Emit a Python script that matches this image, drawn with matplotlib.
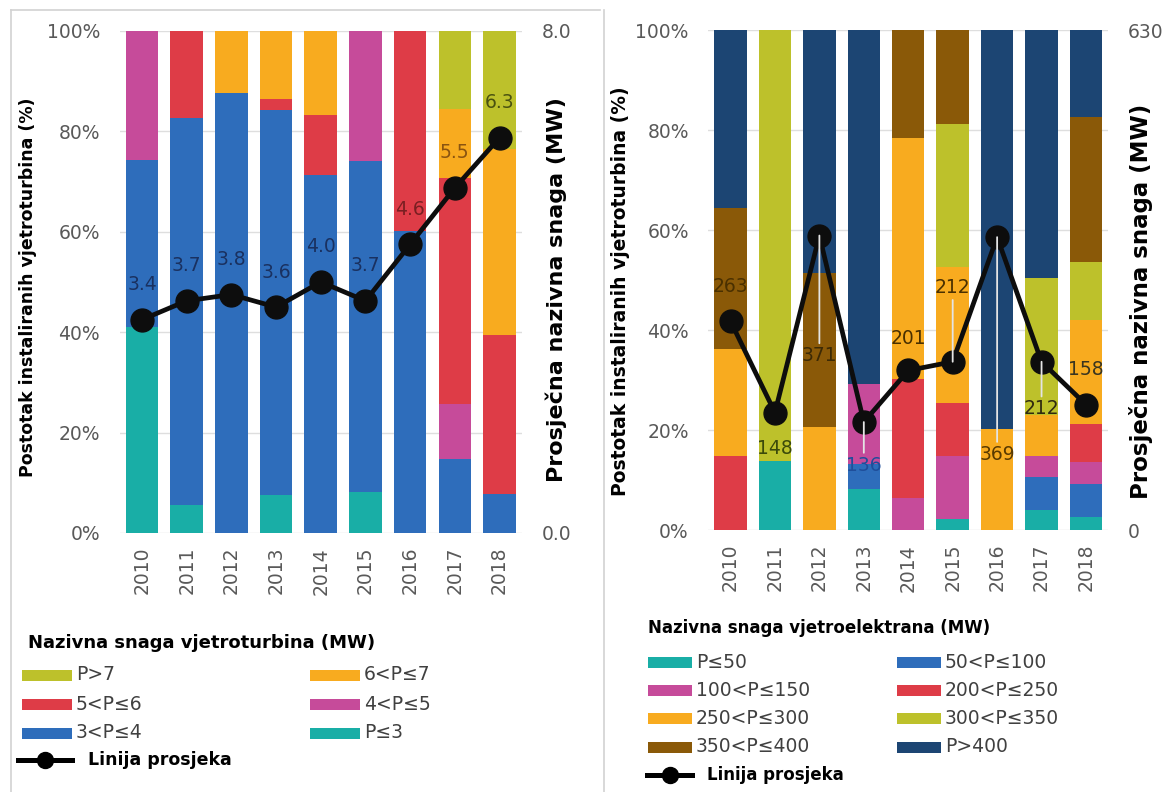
import numpy as np
import matplotlib
matplotlib.use('Agg')
import matplotlib.pyplot as plt
from matplotlib.patches import Rectangle
from matplotlib.lines import Line2D

# ── Canvas (pixel units, converted to figure fractions below) ─────────────────
W, H = 1175, 792

# ── Data ──────────────────────────────────────────────────────────────────────
years = ['2010', '2011', '2012', '2013', '2014', '2015', '2016', '2017', '2018']

# left panel: share of installed turbines by turbine rating (%), bottom -> top
turb_labels = ['P≤3', '3<P≤4', '4<P≤5', '5<P≤6', '6<P≤7', 'P>7']
turb_le3 = [41.0, 5.6, 0.0, 7.6, 0.0, 8.1, 0.0, 0.0, 0.0]
turb_3_4 = [33.4, 77.0, 87.6, 76.6, 71.3, 66.1, 60.1, 14.7, 7.7]
turb_4_5 = [25.6, 0.0, 0.0, 0.0, 0.0, 25.8, 0.0, 11.0, 0.0]
turb_5_6 = [0.0, 17.4, 0.0, 2.2, 11.9, 0.0, 39.9, 45.1, 31.8]
turb_6_7 = [0.0, 0.0, 12.4, 13.6, 16.8, 0.0, 0.0, 13.6, 36.9]
turb_gt7 = [0.0, 0.0, 0.0, 0.0, 0.0, 0.0, 0.0, 15.6, 23.6]
turb_avg = [3.4, 3.7, 3.8, 3.6, 4.0, 3.7, 4.6, 5.5, 6.3]   # MW
turb_avg_max = 8.0

# right panel: share of turbines by wind-farm rating (%), bottom -> top
farm_labels = ['P≤50', '50<P≤100', '100<P≤150', '200<P≤250',
               '250<P≤300', '300<P≤350', '350<P≤400', 'P>400']
farm_le50 = [0.0, 13.8, 0.0, 8.2, 0.0, 2.2, 0.0, 4.0, 2.7]
farm_50_100 = [0.0, 0.0, 0.0, 5.1, 0.0, 0.0, 0.0, 6.7, 6.5]
farm_100_150 = [0.0, 0.0, 0.0, 16.0, 6.5, 12.6, 0.0, 4.1, 4.5]
farm_200_250 = [14.8, 0.0, 0.0, 0.0, 23.7, 10.7, 0.0, 0.0, 7.6]
farm_250_300 = [21.4, 0.0, 20.7, 0.0, 48.3, 27.1, 20.2, 8.2, 20.7]
farm_300_350 = [0.0, 86.2, 0.0, 0.0, 0.0, 28.6, 0.0, 27.5, 11.7]
farm_350_400 = [28.2, 0.0, 30.7, 0.0, 21.5, 18.8, 0.0, 0.0, 28.9]
farm_gt400 = [35.6, 0.0, 48.6, 70.7, 0.0, 0.0, 79.8, 49.5, 17.4]
farm_avg = [263, 148, 371, 136, 201, 212, 369, 212, 158]   # MW
farm_avg_max = 630

# ── Colours ───────────────────────────────────────────────────────────────────
TEAL, BLUE, PINK, RED = '#19aea6', '#2e6dbb', '#c64b9a', '#de3c47'
ORANGE, OLIVE, BROWN, NAVY = '#f8ab1f', '#bdc12b', '#8a5908', '#1c4573'
GRID, TICK, FRAME, TEXT = '#dedede', '#595959', '#d2d2d2', '#404040'

turb_colors = [TEAL, BLUE, PINK, RED, ORANGE, OLIVE]
farm_colors = [TEAL, BLUE, PINK, RED, ORANGE, OLIVE, BROWN, NAVY]

# label styling (offsets in px, + is up)
turb_lbl_off = [35] * 9
turb_lbl_col = ['#1a3160'] * 6 + ['#7a1f22', '#8a5410', '#4a5210']
farm_lbl_off = [35, -36, -120, -43, 32, 74, -217, -47, 35]
farm_lbl_col = ['#4a3000', '#3b4a0a', '#3d2a05', '#1f4e9a', '#4a3000',
                '#4a3000', '#5a3a00', '#2f2a10', '#3a3520']

plt.rcParams['font.family'] = ['DejaVu Sans']


def fx(x):
    return x / W


def fy(y):
    return 1 - y / H


def stacked_panel(fig, x0, x1, y_top, y_bot, series, colors, avg, avg_max,
                  fmt, offsets, lbl_colors):
    ax = fig.add_axes([fx(x0), fy(y_bot), (x1 - x0) / W, (y_bot - y_top) / H])
    x = np.arange(len(years))
    bottom = np.zeros(len(years))
    for vals, c in zip(series, colors):
        ax.bar(x, vals, bottom=bottom, width=0.73, color=c, lw=0, zorder=2)
        bottom += np.array(vals)
    ax.set_xlim(-0.5, len(years) - 0.5)
    ax.set_ylim(0, 100)
    ax.set_yticks(range(0, 101, 20))
    ax.set_yticklabels([f'{v}%' for v in range(0, 101, 20)])
    ax.set_xticks(x)
    ax.set_xticklabels(years, rotation=90)
    ax.yaxis.grid(True, color=GRID, lw=1)
    ax.set_axisbelow(True)
    for s in ax.spines.values():
        s.set_visible(False)
    ax.tick_params(length=0, labelsize=13.5, labelcolor=TICK)
    ax.tick_params(axis='y', pad=14)
    ax.tick_params(axis='x', pad=10)

    ax2 = ax.twinx()
    ax2.set_ylim(0, avg_max)
    ax2.set_yticks([0, avg_max])
    ax2.set_yticklabels([fmt.format(0), fmt.format(avg_max)])
    for s in ax2.spines.values():
        s.set_visible(False)
    ax2.tick_params(length=0, labelsize=13.5, labelcolor=TICK, pad=14)
    ax2.plot(x, avg, color='#0d0d0d', lw=3.4, marker='o', ms=16.5, zorder=3)
    for i, v in enumerate(avg):
        off = offsets[i]
        arrow = None
        if abs(off) > 40:
            arrow = dict(arrowstyle='-', color='#e4e4e4', lw=1.3,
                         shrinkA=0, shrinkB=0)
        ax2.annotate(fmt.format(v), xy=(i, v), xytext=(0, off * 0.72),
                     textcoords='offset points', ha='center', va='center',
                     fontsize=13.5, color=lbl_colors[i], arrowprops=arrow,
                     zorder=4)
    return ax, ax2


def draw_legend(fig, title, title_xy, title_size, labels, colors, col_x,
                row_y, patch_w, text_size, line_y, line_x, line_text_x,
                line_size):
    fig.text(fx(title_xy[0]), fy(title_xy[1]), title, fontsize=title_size,
             weight='bold', va='center', ha='left', color='black')
    for i, (lab, c) in enumerate(zip(labels, colors)):
        cx = col_x[i % 2]
        cy = row_y[i // 2]
        fig.add_artist(Rectangle((fx(cx), fy(cy + 5.5)), patch_w / W, 11 / H,
                                 transform=fig.transFigure, color=c, lw=0))
        fig.text(fx(cx + patch_w + 4), fy(cy), lab, fontsize=text_size,
                 color=TEXT, va='center', ha='left')
    fig.add_artist(Line2D([fx(line_x[0]), fx(line_x[1])], [fy(line_y)] * 2,
                          transform=fig.transFigure, color='black', lw=3.6))
    fig.add_artist(Line2D([fx((line_x[0] + line_x[1]) / 2)], [fy(line_y)],
                          transform=fig.transFigure, color='black',
                          marker='o', ms=11.5))
    fig.text(fx(line_text_x), fy(line_y), 'Linija prosjeka', fontsize=line_size,
             weight='bold', va='center', ha='left', color='black')


fig = plt.figure(figsize=(W / 100, H / 100), dpi=100)
fig.patch.set_facecolor('white')

# ── Panel frame lines ─────────────────────────────────────────────────────────
for xs, ys in [([11, 11], [10, 792]), ([11, 600], [10, 10]),
               ([604, 604], [10, 792])]:
    fig.add_artist(Line2D([fx(v) for v in xs], [fy(v) for v in ys],
                          transform=fig.transFigure, color=FRAME, lw=1.2))

# ── Left panel: turbine rating ────────────────────────────────────────────────
turb_series = [turb_le3, turb_3_4, turb_4_5, turb_5_6, turb_6_7, turb_gt7]
stacked_panel(fig, 119.6, 521.9, 31, 533, turb_series, turb_colors,
              turb_avg, turb_avg_max, '{:.1f}', turb_lbl_off, turb_lbl_col)
fig.text(fx(28), fy(287), 'Postotak instaliranih vjetroturbina (%)',
         rotation=90, fontsize=12.5, weight='bold', ha='center', va='center')
fig.text(fx(556), fy(290), 'Prosječna nazivna snaga (MW)',
         rotation=90, fontsize=16, weight='bold', ha='center', va='center')

# ── Right panel: wind-farm rating ─────────────────────────────────────────────
farm_series = [farm_le50, farm_50_100, farm_100_150, farm_200_250,
               farm_250_300, farm_300_350, farm_350_400, farm_gt400]
stacked_panel(fig, 708.3, 1108.2, 30, 530, farm_series, farm_colors,
              farm_avg, farm_avg_max, '{:d}', farm_lbl_off, farm_lbl_col)
fig.text(fx(621), fy(291), 'Postotak instaliranih vjetroturbina (%)',
         rotation=90, fontsize=13.5, weight='bold', ha='center', va='center')
fig.text(fx(1141), fy(301), 'Prosječna nazivna snaga (MW)',
         rotation=90, fontsize=16.5, weight='bold', ha='center', va='center')

# ── Legends ───────────────────────────────────────────────────────────────────
# left legend reads top-of-stack first
turb_order = [5, 4, 3, 2, 1, 0]
draw_legend(fig, 'Nazivna snaga vjetroturbina (MW)', (28, 643), 13,
            [turb_labels[i] for i in turb_order],
            [turb_colors[i] for i in turb_order],
            col_x=[22, 310], row_y=[675, 704, 733], patch_w=50, text_size=13.5,
            line_y=760, line_x=(18, 72), line_text_x=88, line_size=12.5)
draw_legend(fig, 'Nazivna snaga vjetroelektrana (MW)', (648, 628), 12,
            farm_labels, farm_colors,
            col_x=[648, 897], row_y=[662, 690, 718, 747], patch_w=44,
            text_size=13.5, line_y=775, line_x=(647, 692), line_text_x=707,
            line_size=12)

fig.savefig('out.png', dpi=100, facecolor='white')
